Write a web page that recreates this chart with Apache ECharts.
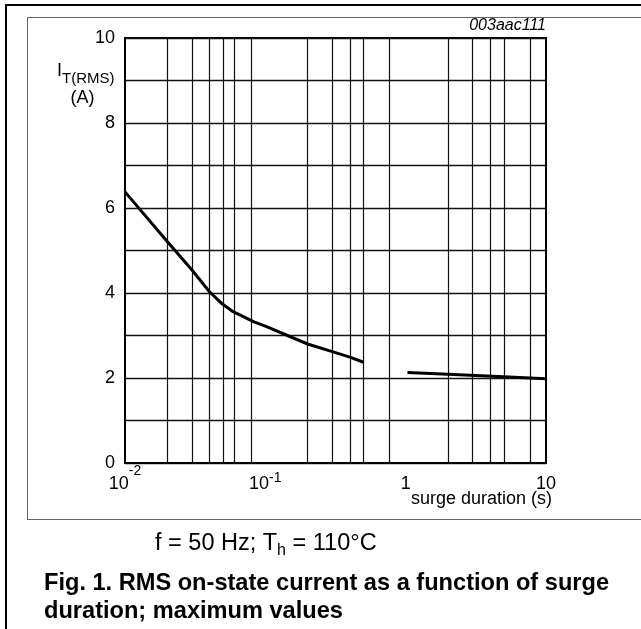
<!DOCTYPE html>
<html>
<head>
<meta charset="utf-8">
<script src="https://cdn.jsdelivr.net/npm/echarts@6/dist/echarts.min.js"></script>
<style>
    html, body { margin: 0; padding: 0; background: #fff; }
    #chart { width: 641px; height: 629px; }
</style>
</head>
<body>
<div id="chart"></div>
<script>
// 曲线数据 (surge duration s, I_T(RMS) A)
const seg1Time = [0.01, 0.02, 0.03, 0.04, 0.0486, 0.05, 0.059, 0.083, 0.1, 0.2, 0.3, 0.4, 0.5]
const seg1Current = [6.38, 5.21, 4.54, 4.03, 3.76, 3.72, 3.56, 3.32, 3.22, 2.8, 2.62, 2.49, 2.37]
const seg2Time = [1.03, 2, 5, 10]
const seg2Current = [2.13, 2.09, 2.03, 1.98]

// 竖向网格线位置 (原图并非标准对数网格)
const gridTimes = [0.02, 0.03, 0.04, 0.05, 0.059, 0.083, 0.2, 0.3, 0.4, 0.5, 0.77, 2, 3, 4, 5, 7.7]

// 坐标轴范围
const xMin = 0.01
const xMax = 10
const yMin = 0
const yMax = 10

const font = 'Liberation Sans, Arial, sans-serif'

const pairs = (xs, ys) => xs.map((x, i) => [x, ys[i]])

const chart = echarts.init(document.getElementById('chart'), null, { renderer: 'canvas' })

const option = {
    animation: false,
    backgroundColor: '#fff',
    grid: {
        left: 125,
        top: 38,
        width: 421,
        height: 425,
        containLabel: false,
        outerBoundsMode: 'none',
        show: true,
        borderColor: '#000',
        borderWidth: 2,
    },
    xAxis: {
        type: 'log',
        logBase: 10,
        min: xMin,
        max: xMax,
        axisLine: { show: true, lineStyle: { color: '#000', width: 2 } },
        axisTick: { show: false },
        splitLine: { show: false },
        axisLabel: {
            margin: 0,
            color: '#000',
            fontFamily: font,
            formatter: (v) => {
                const p = Math.round(Math.log10(v))
                if (p === -2) return '{b|10}{s2|-2}'
                if (p === -1) return '{b|10}{s1|-1}'
                if (p === 0) return '{b|1}'
                return '{b|10}'
            },
            rich: {
                b: { fontFamily: font, fontSize: 18, lineHeight: 20, verticalAlign: 'top', padding: [12, 0, 0, 0], color: '#000' },
                s2: { fontFamily: font, fontSize: 14, lineHeight: 14, verticalAlign: 'top', padding: [1, 0, 0, 0], color: '#000' },
                s1: { fontFamily: font, fontSize: 14, lineHeight: 14, verticalAlign: 'top', padding: [8, 0, 0, 0], color: '#000' },
            },
        },
    },
    yAxis: {
        type: 'value',
        min: yMin,
        max: yMax,
        interval: 1,
        axisLine: { show: true, lineStyle: { color: '#000', width: 2 } },
        axisTick: { show: false },
        axisLabel: {
            margin: 10,
            color: '#000',
            fontFamily: font,
            fontSize: 18,
            formatter: (v) => (v % 2 === 0 ? String(v) : ''),
        },
        splitLine: { show: true, lineStyle: { color: '#111', width: 1.3 } },
    },
    series: [
        {
            type: 'line',
            data: pairs(seg1Time, seg1Current),
            symbol: 'none',
            lineStyle: { color: '#000', width: 3 },
            z: 5,
            markLine: {
                silent: true,
                symbol: ['none', 'none'],
                label: { show: false },
                lineStyle: { color: '#111', width: 1.2, type: 'solid' },
                data: gridTimes.map((t) => ({ xAxis: t })),
                z: 1,
            },
        },
        {
            type: 'line',
            data: pairs(seg2Time, seg2Current),
            symbol: 'none',
            lineStyle: { color: '#000', width: 3 },
            z: 5,
        },
    ],
    graphic: [
        // 外框
        { type: 'line', shape: { x1: 5, y1: 5, x2: 641, y2: 5 }, style: { stroke: '#000', lineWidth: 2 } },
        { type: 'line', shape: { x1: 6, y1: 5, x2: 6, y2: 629 }, style: { stroke: '#000', lineWidth: 2 } },
        { type: 'line', shape: { x1: 27, y1: 17.5, x2: 641, y2: 17.5 }, style: { stroke: '#666', lineWidth: 1 } },
        { type: 'line', shape: { x1: 27.5, y1: 17, x2: 27.5, y2: 519 }, style: { stroke: '#666', lineWidth: 1 } },
        { type: 'line', shape: { x1: 27, y1: 519.5, x2: 641, y2: 519.5 }, style: { stroke: '#666', lineWidth: 1 } },
        {
            type: 'text',
            x: 546,
            y: 26,
            style: {
                text: '003aac111',
                fontFamily: font,
                fontSize: 16,
                fontStyle: 'italic',
                fill: '#000',
                align: 'right',
                verticalAlign: 'middle',
            },
        },
        // x 轴名称
        {
            type: 'text',
            x: 552,
            y: 499,
            style: {
                text: 'surge duration (s)',
                fontFamily: font,
                fontSize: 18,
                fill: '#000',
                align: 'right',
                verticalAlign: 'middle',
            },
        },
        // y 轴名称
        {
            type: 'text',
            x: 57,
            y: 62,
            style: {
                text: '{i|I}{sub|T(RMS)}',
                align: 'left',
                verticalAlign: 'top',
                rich: {
                    i: { fontFamily: font, fontSize: 18, lineHeight: 20, verticalAlign: 'top', fill: '#000' },
                    sub: { fontFamily: font, fontSize: 15, lineHeight: 16, verticalAlign: 'top', padding: [9, 0, 0, 0], fill: '#000' },
                },
            },
        },
        {
            type: 'text',
            x: 82.5,
            y: 98,
            style: {
                text: '(A)',
                fontFamily: font,
                fontSize: 18,
                fill: '#000',
                align: 'center',
                verticalAlign: 'middle',
            },
        },
        {
            type: 'text',
            x: 155,
            y: 545,
            style: {
                text: '{t|f = 50 Hz; T}{h|h}{t| = 110°C}',
                align: 'left',
                verticalAlign: 'middle',
                rich: {
                    t: { fontFamily: font, fontSize: 23.5, lineHeight: 26, verticalAlign: 'top', fill: '#000' },
                    h: { fontFamily: font, fontSize: 16, lineHeight: 16, verticalAlign: 'top', padding: [11, 0, 0, 0], fill: '#000' },
                },
            },
        },
        {
            type: 'text',
            x: 44,
            y: 569,
            style: {
                text: 'Fig. 1. RMS on-state current as a function of surge\nduration; maximum values',
                fontFamily: font,
                fontSize: 23.6,
                fontWeight: 'bold',
                lineHeight: 28,
                fill: '#000',
                align: 'left',
                verticalAlign: 'top',
            },
        },
    ],
}

chart.setOption(option)
</script>
</body>
</html>
